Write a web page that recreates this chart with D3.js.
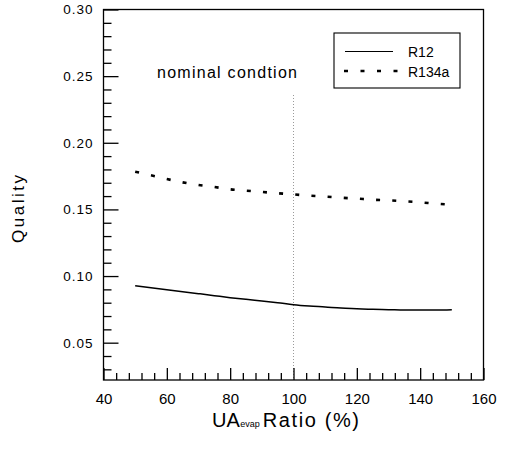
<!DOCTYPE html>
<html>
<head>
<meta charset="utf-8">
<script src="https://cdn.jsdelivr.net/npm/d3@7"></script>
<style>
  html, body { margin: 0; padding: 0; background: #fff; }
  svg { display: block; font-family: "Liberation Sans", Arial, sans-serif; }
</style>
</head>
<body>
<svg id="chart" width="506" height="454"></svg>
<script>
// ---- data ----
const ratio = [50, 55, 60, 65, 70, 75, 80, 85, 90, 95, 100, 105, 110, 115, 120, 125, 130, 135, 140, 145, 150];
const r12 = [0.0928, 0.0913, 0.0898, 0.0883, 0.0868, 0.0853, 0.0838, 0.0825, 0.0813, 0.0800, 0.0785,
             0.0775, 0.0768, 0.0760, 0.0755, 0.0750, 0.0748, 0.0745, 0.0745, 0.0745, 0.0748];
const r134a = [0.1783, 0.1756, 0.1728, 0.1703, 0.1683, 0.1668, 0.1651, 0.1641, 0.1631, 0.1621, 0.1613,
               0.1603, 0.1596, 0.1588, 0.1581, 0.1573, 0.1568, 0.1561, 0.1553, 0.1543, 0.1535];
const xMajor = [40, 60, 80, 100, 120, 140, 160];
const xMinor = [44, 48, 52, 56, 64, 68, 72, 76, 84, 88, 92, 96, 104, 108, 112, 116, 124, 128, 132, 136, 144, 148, 152, 156];
const yMajor = [0.05, 0.10, 0.15, 0.20, 0.25, 0.30];
const yMinor = [0.03, 0.04, 0.06, 0.07, 0.08, 0.09, 0.11, 0.12, 0.13, 0.14, 0.16, 0.17, 0.18, 0.19, 0.21, 0.22, 0.23, 0.24, 0.26, 0.27, 0.28, 0.29];
const seriesNames = ["R12", "R134a"];
const nominalX = 100;

// ---- layout ----
const svg = d3.select("#chart");
const L = 103.5, R = 483.5, T = 9.5, B = 380;
const x = d3.scaleLinear().domain([40, 160]).range([L, R]);
const y = d3.scaleLinear().domain([0.022, 0.30]).range([B, T]);

// nominal vertical dotted line
svg.append("line")
  .attr("x1", x(nominalX)).attr("x2", x(nominalX))
  .attr("y1", 95).attr("y2", B)
  .attr("stroke", "#9a9a9a").attr("stroke-width", 1)
  .attr("stroke-dasharray", "1,2");

// axes
const gx = svg.append("g").attr("transform", `translate(0,${B})`)
  .call(d3.axisBottom(x).tickValues(xMajor).tickSizeInner(-12).tickSizeOuter(0).tickPadding(13));
gx.select(".domain").remove();
gx.selectAll("text").attr("font-size", 15).attr("font-family", "Liberation Sans, Arial, sans-serif").attr("fill", "#000");
gx.selectAll("line").attr("stroke", "#000").attr("stroke-width", 1.3);

const gxm = svg.append("g").attr("transform", `translate(0,${B})`)
  .call(d3.axisBottom(x).tickValues(xMinor).tickSizeInner(-7).tickSizeOuter(0).tickFormat(""));
gxm.select(".domain").remove();
gxm.selectAll("line").attr("stroke", "#000").attr("stroke-width", 1.3);

const gy = svg.append("g").attr("transform", `translate(${L},0)`)
  .call(d3.axisLeft(y).tickValues(yMajor).tickSizeInner(-15).tickSizeOuter(0).tickPadding(10).tickFormat(d3.format(".2f")));
gy.select(".domain").remove();
gy.selectAll("text").attr("font-size", 13.5).attr("letter-spacing", 1).attr("font-family", "Liberation Sans, Arial, sans-serif").attr("fill", "#000");
gy.selectAll("line").attr("stroke", "#000").attr("stroke-width", 1.3);

const gym = svg.append("g").attr("transform", `translate(${L},0)`)
  .call(d3.axisLeft(y).tickValues(yMinor).tickSizeInner(-8).tickSizeOuter(0).tickFormat(""));
gym.select(".domain").remove();
gym.selectAll("line").attr("stroke", "#000").attr("stroke-width", 1.3);

// frame
svg.append("rect").attr("x", L).attr("y", T).attr("width", R - L).attr("height", B - T)
  .attr("fill", "none").attr("stroke", "#000").attr("stroke-width", 1.3);

// series
const line = d3.line().x((d, i) => x(ratio[i])).y(d => y(d)).curve(d3.curveMonotoneX);
svg.append("path").datum(r12).attr("d", line)
  .attr("fill", "none").attr("stroke", "#000").attr("stroke-width", 1.5);
svg.append("path").datum(r134a).attr("d", line)
  .attr("fill", "none").attr("stroke", "#000").attr("stroke-width", 2.6)
  .attr("stroke-dasharray", "4,12.2");

// annotation
svg.append("text").attr("x", 157).attr("y", 78)
  .attr("font-size", 16).attr("textLength", 140).attr("lengthAdjust", "spacing")
  .text("nominal condtion");

// legend
svg.append("rect").attr("x", 334).attr("y", 33).attr("width", 126).attr("height", 55)
  .attr("fill", "#fff").attr("stroke", "#000").attr("stroke-width", 1.1);
svg.append("line").attr("x1", 345).attr("x2", 393).attr("y1", 51.5).attr("y2", 51.5)
  .attr("stroke", "#000").attr("stroke-width", 1.2);
svg.append("line").attr("x1", 344).attr("x2", 400).attr("y1", 71).attr("y2", 71)
  .attr("stroke", "#000").attr("stroke-width", 2.6).attr("stroke-dasharray", "4,12.5");
svg.append("text").attr("x", 408).attr("y", 56.5).attr("font-size", 14).text(seriesNames[0]);
svg.append("text").attr("x", 408).attr("y", 76.5).attr("font-size", 14).text(seriesNames[1]);

// axis titles
svg.append("text")
  .attr("transform", "translate(23.5,209) rotate(-90)")
  .attr("text-anchor", "middle").attr("font-size", 17)
  .attr("textLength", 68).attr("lengthAdjust", "spacing")
  .text("Quality");

const xt = svg.append("text").attr("x", 212).attr("y", 427).attr("font-size", 20);
xt.append("tspan").text("UA");
xt.append("tspan").attr("font-size", 9).attr("dx", 0.5).text("evap");
xt.append("tspan").attr("dx", 3).attr("letter-spacing", 1.6).text("Ratio (%)");
</script>
</body>
</html>
